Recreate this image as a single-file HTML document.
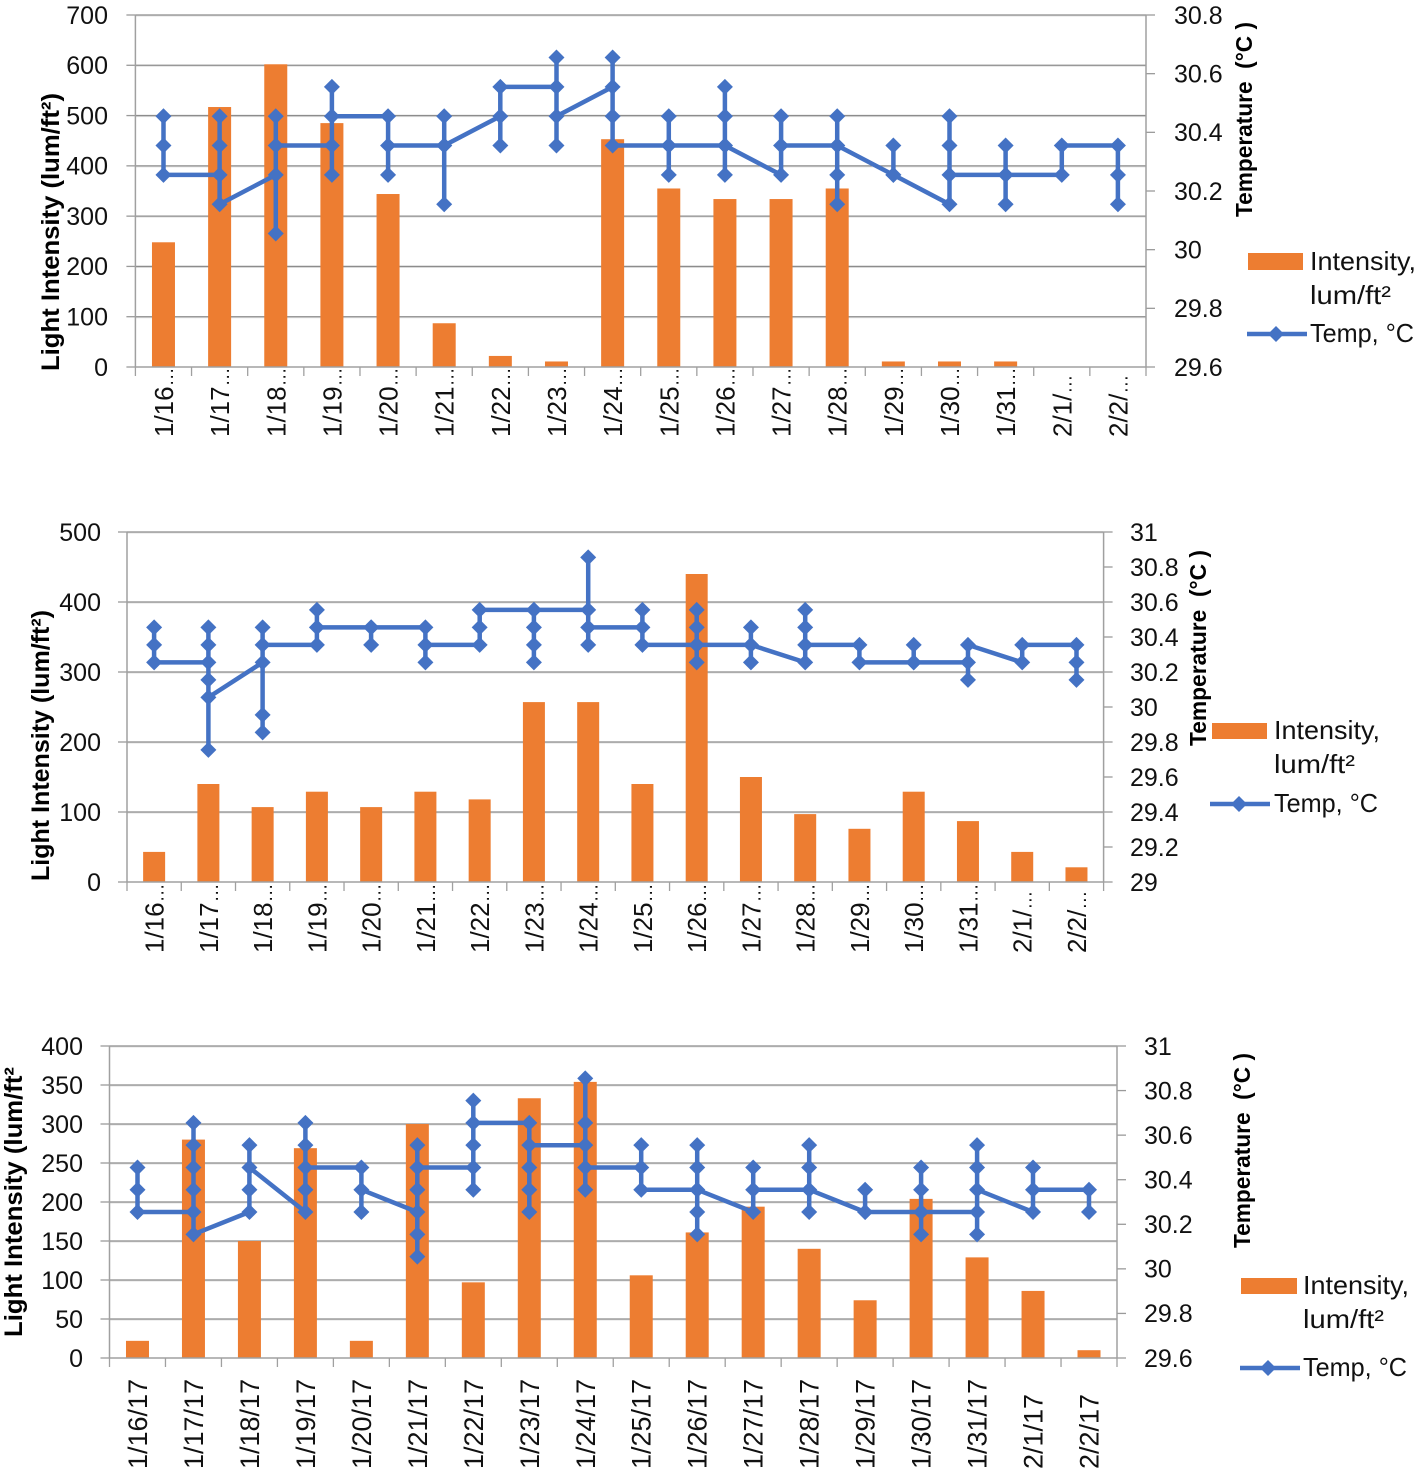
<!DOCTYPE html>
<html lang="en">
<head>
<meta charset="utf-8">
<title>Light intensity and temperature charts</title>
<style>
html,body{margin:0;padding:0;background:#fff;}
svg{display:block;}
text{font-family:"Liberation Sans",sans-serif;fill:#111;}
.tick{font-size:25px;}
.cat{font-size:26px;}
.ttl{font-size:25px;font-weight:bold;fill:#000;}
.rttl{font-size:23px;font-weight:bold;fill:#000;}
.leg{font-size:26px;}
</style>
</head>
<body>
<svg id="page" width="1417" height="1471" viewBox="0 0 1417 1471" xmlns="http://www.w3.org/2000/svg">
  <g id="chart-1"></g>
  <g>
    <text class="ttl" transform="translate(59,371) rotate(-90)" textLength="278" lengthAdjust="spacingAndGlyphs">Light Intensity (lum/ft²)</text>
    <text class="rttl" transform="translate(1252,217) rotate(-90)" textLength="195" lengthAdjust="spacingAndGlyphs" xml:space="preserve">Temperature  (°C )</text>
    <rect x="1248" y="253" width="55" height="17" fill="#ed7d31"/>
    <text class="leg" x="1310" y="270" textLength="106" lengthAdjust="spacingAndGlyphs">Intensity,</text>
    <text class="leg" x="1310" y="304" textLength="81" lengthAdjust="spacingAndGlyphs">lum/ft²</text>
    <line x1="1247" x2="1307" y1="334" y2="334" stroke="#4472c4" stroke-width="4.5"/>
    <polygon points="1276,326 1284,334 1276,342 1268,334" fill="#4472c4"/>
    <text class="leg" x="1310" y="342" textLength="104" lengthAdjust="spacingAndGlyphs">Temp, °C</text>
  </g>

  <g id="chart-2"></g>
  <g>
    <text class="ttl" transform="translate(49,881) rotate(-90)" textLength="271" lengthAdjust="spacingAndGlyphs">Light Intensity (lum/ft²)</text>
    <text class="rttl" transform="translate(1206,746) rotate(-90)" textLength="196" lengthAdjust="spacingAndGlyphs" xml:space="preserve">Temperature  (°C )</text>
    <rect x="1212" y="723" width="55" height="16" fill="#ed7d31"/>
    <text class="leg" x="1274" y="739" textLength="106" lengthAdjust="spacingAndGlyphs">Intensity,</text>
    <text class="leg" x="1274" y="773" textLength="81" lengthAdjust="spacingAndGlyphs">lum/ft²</text>
    <line x1="1210" x2="1270" y1="804" y2="804" stroke="#4472c4" stroke-width="4.5"/>
    <polygon points="1239,796 1247,804 1239,812 1231,804" fill="#4472c4"/>
    <text class="leg" x="1274" y="812" textLength="104" lengthAdjust="spacingAndGlyphs">Temp, °C</text>
  </g>

  <g id="chart-3"></g>
  <g>
    <text class="ttl" transform="translate(22,1337) rotate(-90)" textLength="270" lengthAdjust="spacingAndGlyphs">Light Intensity (lum/ft²</text>
    <text class="rttl" transform="translate(1250,1248) rotate(-90)" textLength="195" lengthAdjust="spacingAndGlyphs" xml:space="preserve">Temperature  (°C )</text>
    <rect x="1241" y="1278" width="56" height="16" fill="#ed7d31"/>
    <text class="leg" x="1303" y="1294" textLength="106" lengthAdjust="spacingAndGlyphs">Intensity,</text>
    <text class="leg" x="1303" y="1328" textLength="81" lengthAdjust="spacingAndGlyphs">lum/ft²</text>
    <line x1="1240" x2="1300" y1="1368" y2="1368" stroke="#4472c4" stroke-width="4.5"/>
    <polygon points="1268,1360 1276,1368 1268,1376 1260,1368" fill="#4472c4"/>
    <text class="leg" x="1303" y="1376" textLength="104" lengthAdjust="spacingAndGlyphs">Temp, °C</text>
  </g>
</svg>
<script>
const truncatedDates = ['1/16…','1/17…','1/18…','1/19…','1/20…','1/21…','1/22…','1/23…','1/24…','1/25…','1/26…','1/27…','1/28…','1/29…','1/30…','1/31…','2/1/…','2/2/…'];
const fullDates = ['1/16/17','1/17/17','1/18/17','1/19/17','1/20/17','1/21/17','1/22/17','1/23/17','1/24/17','1/25/17','1/26/17','1/27/17','1/28/17','1/29/17','1/30/17','1/31/17','2/1/17','2/2/17'];

const topIntensityTicks = [0,100,200,300,400,500,600,700];
const topTempTicks = ['29.6','29.8','30','30.2','30.4','30.6','30.8'];
const topIntensity = [248,517,602,485,344,87,22,11,453,355,334,334,355,11,11,11,0,0];
const topTemp = [
  [30.455,30.355,30.255],
  [30.255,30.455,30.355,30.155],
  [30.255,30.055,30.455,30.355],
  [30.355,30.555,30.255,30.455],
  [30.455,30.255,30.355],
  [30.355,30.455,30.155,30.355],
  [30.455,30.355,30.555],
  [30.555,30.655,30.355,30.455],
  [30.555,30.655,30.455,30.355],
  [30.355,30.455,30.255,30.355],
  [30.355,30.555,30.455,30.255,30.355],
  [30.255,30.455,30.355],
  [30.355,30.455,30.155,30.255,30.355],
  [30.255,30.355,30.255],
  [30.155,30.455,30.355,30.255],
  [30.255,30.355,30.155,30.255],
  [30.255,30.355],
  [30.355,30.255,30.155]
];

const middleIntensityTicks = [0,100,200,300,400,500];
const middleTempTicks = ['29','29.2','29.4','29.6','29.8','30','30.2','30.4','30.6','30.8','31'];
const middleIntensity = [43,140,107,129,107,129,118,257,257,140,440,150,97,76,129,87,43,21];
const middleTemp = [
  [30.455,30.355,30.255],
  [30.255,30.455,30.355,30.155,29.755,30.055],
  [30.255,29.855,29.955,30.455,30.355],
  [30.355,30.555,30.455],
  [30.455,30.355,30.455],
  [30.455,30.255,30.355],
  [30.355,30.455,30.555],
  [30.555,30.455,30.355,30.255,30.555],
  [30.555,30.855,30.355,30.455],
  [30.455,30.555,30.355],
  [30.355,30.555,30.455,30.255,30.355],
  [30.355,30.455,30.255,30.355],
  [30.255,30.555,30.455,30.355],
  [30.355,30.255],
  [30.255,30.355,30.255],
  [30.255,30.155,30.355],
  [30.255,30.355],
  [30.355,30.255,30.155]
];

const bottomIntensityTicks = [0,50,100,150,200,250,300,350,400];
const bottomTempTicks = ['29.6','29.8','30','30.2','30.4','30.6','30.8','31'];
const bottomIntensity = [22,280,150,269,22,300,97,333,354,106,161,194,140,74,204,129,86,10];
const bottomTemp = [
  [30.455,30.355,30.255],
  [30.255,30.655,30.555,30.455,30.355,30.155],
  [30.255,30.355,30.555,30.455],
  [30.255,30.355,30.655,30.555,30.455],
  [30.455,30.255,30.355],
  [30.255,30.155,30.055,30.355,30.555,30.455],
  [30.455,30.355,30.555,30.755,30.655],
  [30.655,30.455,30.355,30.255,30.555],
  [30.555,30.855,30.655,30.355,30.455],
  [30.455,30.555,30.355],
  [30.355,30.555,30.455,30.255,30.155,30.355],
  [30.255,30.455,30.355],
  [30.355,30.555,30.455,30.255,30.355],
  [30.255,30.355,30.255],
  [30.255,30.455,30.355,30.155,30.255],
  [30.255,30.155,30.555,30.455,30.355],
  [30.255,30.455,30.355],
  [30.355,30.255]
];

const SVG_NS = 'http://www.w3.org/2000/svg';

function make(parent, tag, attrs) {
  const node = document.createElementNS(SVG_NS, tag);
  Object.keys(attrs).forEach(function (k) { node.setAttribute(k, attrs[k]); });
  parent.appendChild(node);
  return node;
}

function drawChart(id, layout, dates, intensityTicks, tempTicks, intensity, temp) {
  const root = document.getElementById(id);
  const n = dates.length;
  const step = (layout.right - layout.left) / n;
  const leftMax = intensityTicks[intensityTicks.length - 1];
  const tempMin = parseFloat(tempTicks[0]);
  const tempMax = parseFloat(tempTicks[tempTicks.length - 1]);
  const x = function (i) { return layout.left + step * (i + 0.5); };
  const yLeft = function (v) { return layout.bottom - (v / leftMax) * (layout.bottom - layout.top); };
  const yRight = function (v) { return layout.bottom - ((v - tempMin) / (tempMax - tempMin)) * (layout.bottom - layout.top); };

  // Gridlines and left axis ticks
  intensityTicks.forEach(function (t) {
    const yy = yLeft(t);
    if (t !== 0) {
      const glow = make(root, 'line', {x1: layout.left, x2: layout.right, y1: yy + 1, y2: yy + 1, stroke: '#e2e2e2', 'stroke-width': 1});
      
      
      const grid = make(root, 'line', {x1: layout.left, x2: layout.right, y1: yy, y2: yy, stroke: '#8c8c8c', 'stroke-width': 1.3});
      
      
    }
    const tick = make(root, 'line', {x1: layout.left - 9, x2: layout.left, y1: yy, y2: yy, stroke: '#9a9a9a', 'stroke-width': 1.3});
    
    
    const label = make(root, 'text', {class: 'tick', x: layout.leftLabel, y: yy + 8.8, 'text-anchor': 'end'});
    label.textContent = String(t);
    
    
  });

  // Right axis ticks and labels
  tempTicks.forEach(function (t) {
    const yy = yRight(parseFloat(t));
    const tick = make(root, 'line', {x1: layout.right, x2: layout.right + 9, y1: yy, y2: yy, stroke: '#9a9a9a', 'stroke-width': 1.3});
    
    
    const label = make(root, 'text', {class: 'tick', x: layout.rightLabel, y: yy + 8.8});
    label.textContent = t;
    
    
  });

  // Bars
  intensity.forEach(function (v, i) {
    if (v <= 0) return;
    const bar = make(root, 'rect', {x: x(i) - layout.barWidth / 2, y: yLeft(v), width: layout.barWidth, height: yLeft(0) - yLeft(v), fill: '#ed7d31'});
    
    
  });

  // Axis lines
  const axisLeft = make(root, 'line', {x1: layout.left, x2: layout.left, y1: layout.top, y2: layout.bottom, stroke: '#a0a0a0', 'stroke-width': 1.5});
  
  
  const axisRight = make(root, 'line', {x1: layout.right, x2: layout.right, y1: layout.top, y2: layout.bottom, stroke: '#a0a0a0', 'stroke-width': 1.5});
  
  
  const axisBottom = make(root, 'line', {x1: layout.left, x2: layout.right, y1: layout.bottom, y2: layout.bottom, stroke: '#a0a0a0', 'stroke-width': 1.5});
  
  

  // Category ticks and labels
  for (let i = 0; i <= n; i++) {
    const xx = layout.left + step * i;
    const tick = make(root, 'line', {x1: xx, x2: xx, y1: layout.bottom, y2: layout.bottom + 9, stroke: '#a0a0a0', 'stroke-width': 1.3});
    
    
  }
  dates.forEach(function (d, i) {
    const label = make(root, 'text', {class: 'cat', 'font-size': layout.catFont, style: 'font-size:' + layout.catFont + 'px', transform: 'translate(' + (x(i) + 9.5) + ',' + (layout.bottom + layout.catOffset) + ') rotate(-90)'});
    
    
    if (d.endsWith('…')) {
      label.appendChild(document.createTextNode(d.slice(0, -1)));
      const dots = make(label, 'tspan', {style: 'font-size:19px'});
      dots.textContent = '…';
    } else {
      label.textContent = d;
    }
  });

  // Temperature line: readings are visited in order across all days
  const pts = [];
  temp.forEach(function (day, i) {
    day.forEach(function (v) { pts.push([x(i), yRight(v)]); });
  });
  const line = make(root, 'polyline', {points: pts.map(function (p) { return p[0].toFixed(1) + ',' + p[1].toFixed(1); }).join(' '), fill: 'none', stroke: '#4472c4', 'stroke-width': 4.5, 'stroke-linejoin': 'round'});
  
  
  pts.forEach(function (p) {
    const r = 8;
    const marker = make(root, 'polygon', {points: p[0] + ',' + (p[1] - r) + ' ' + (p[0] + r) + ',' + p[1] + ' ' + p[0] + ',' + (p[1] + r) + ' ' + (p[0] - r) + ',' + p[1], fill: '#4472c4'});
    
    
  });
}

drawChart('chart-1', {left: 135.4, right: 1146, top: 15, bottom: 367, barWidth: 23, leftLabel: 108, rightLabel: 1174, catOffset: 70, catFont: 26}, truncatedDates, topIntensityTicks, topTempTicks, topIntensity, topTemp);
drawChart('chart-2', {left: 127, right: 1103.6, top: 532, bottom: 882, barWidth: 22, leftLabel: 101, rightLabel: 1130, catOffset: 71, catFont: 26}, truncatedDates, middleIntensityTicks, middleTempTicks, middleIntensity, middleTemp);
drawChart('chart-3', {left: 109.5, right: 1117, top: 1046, bottom: 1358, barWidth: 23, leftLabel: 83, rightLabel: 1144, catOffset: 111, catFont: 27}, fullDates, bottomIntensityTicks, bottomTempTicks, bottomIntensity, bottomTemp);
</script>
</body>
</html>
